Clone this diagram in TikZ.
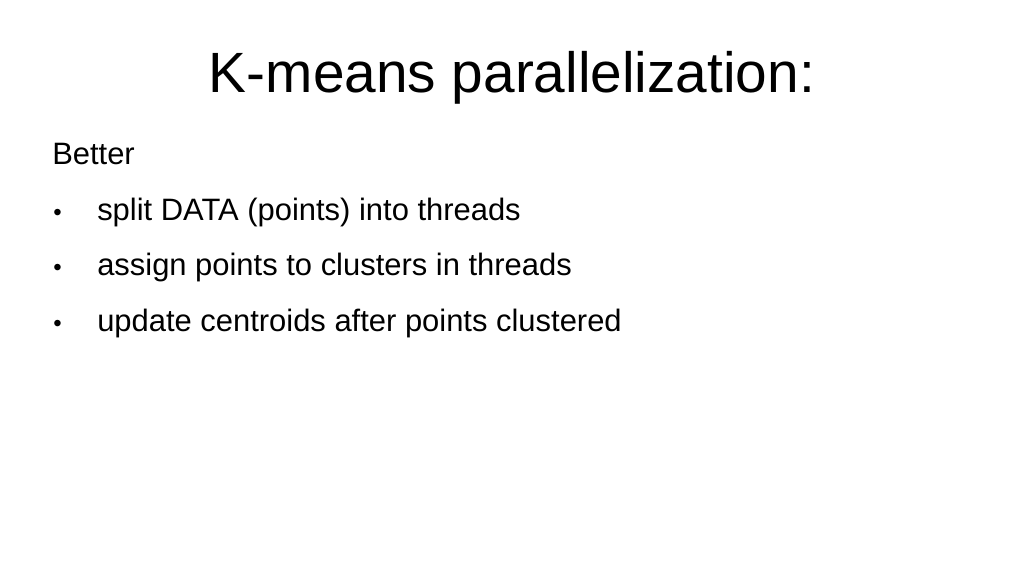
\documentclass[tikz,border=0pt]{standalone}
\usepackage{fontspec}
\setmainfont{Liberation Sans}
\tikzset{
  titletext/.style={anchor=base, font=\fontsize{42.6}{46}\selectfont},
  bodytext/.style={anchor=base west, inner sep=0pt, font=\fontsize{23.2}{26}\selectfont},
}
\begin{document}
\begin{tikzpicture}[x=0.75pt, y=-0.75pt]
  \useasboundingbox (0,0) rectangle (1024,577);
  \node[titletext] (title) at (512,93) {K-means parallelization:};
  \node[bodytext] (better) at (52,165) {Better};
  % bullets
  \foreach \t [count=\i] in {split DATA (points) into threads,
      assign points to clusters in threads,
      update centroids after points clustered} {
    \node[bodytext, font=\fontsize{18}{20}\selectfont] (dot\i) at (53,165+55.5*\i) {•};
    \node[bodytext] (item\i) at (97,165+55.5*\i) {\t};
  }
\end{tikzpicture}
\end{document}
